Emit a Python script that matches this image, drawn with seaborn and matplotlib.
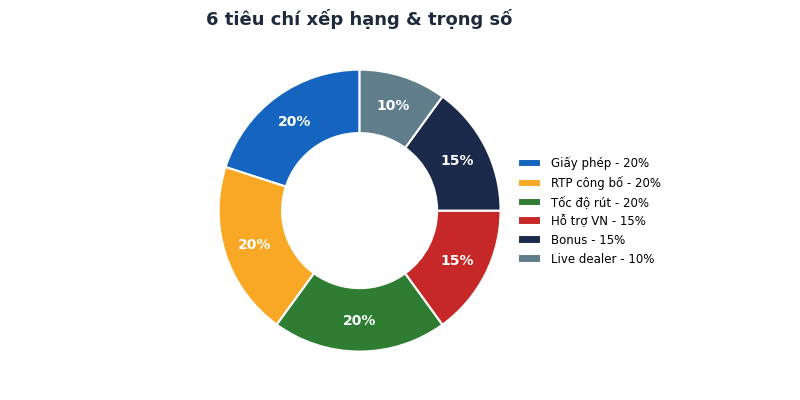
import matplotlib
matplotlib.use("Agg")
import matplotlib.pyplot as plt
import seaborn as sns

# -----------------------------
# Data
# -----------------------------
criteria = ["Giấy phép", "RTP công bố", "Tốc độ rút", "Hỗ trợ VN", "Bonus", "Live dealer"]
weights = [20, 20, 20, 15, 15, 10]
colors = ["#1565C0", "#F9A825", "#2E7D32", "#C62828", "#1B2A4A", "#607D8B"]

sns.set_theme(style="white")
plt.rcParams["font.family"] = ["DejaVu Sans"]

fig = plt.figure(figsize=(8, 4), dpi=100)
ax = fig.add_axes([0.229, 0.033, 0.441, 0.881])

wedges, texts, autotexts = ax.pie(
    weights,
    colors=colors,
    startangle=90,
    counterclock=True,
    autopct="%1.0f%%",
    pctdistance=0.78,
    wedgeprops=dict(width=0.45, edgecolor="white", linewidth=1.5),
    textprops=dict(color="white", fontsize=10, fontweight="bold"),
)
ax.set_aspect("equal")

ax.set_title("6 tiêu chí xếp hạng & trọng số", fontsize=13, fontweight="bold",
             color="#1E2B3C", pad=7)

labels = [f"{c} - {w}%" for c, w in zip(criteria, weights)]
fig.legend(wedges, labels, loc="center left", bbox_to_anchor=(507 / 800, 189 / 400),
           frameon=False, fontsize=8.5, labelcolor="black")

fig.savefig("out.png", dpi=100)
